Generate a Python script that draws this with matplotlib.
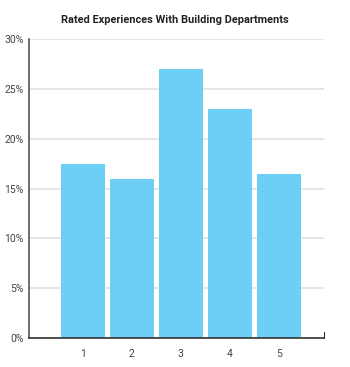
import numpy as np
import matplotlib.pyplot as plt
from matplotlib.ticker import PercentFormatter

ratings = ["1", "2", "3", "4", "5"]
shares = [17.5, 16.0, 27.0, 23.0, 16.5]

plt.rcParams["font.family"] = ["Roboto", "DejaVu Sans"]

fig = plt.figure(figsize=(3.5, 3.67), dpi=100)
ax = fig.add_axes([29 / 350, 1 - 338 / 367, 295 / 350, 299 / 367])

x = np.arange(1, len(ratings) + 1)
ax.bar(x, shares, width=0.9, color="#6dcff6", zorder=2)

ax.set_xlim(-0.1, 5.92)
ax.set_ylim(0, 30)
ax.set_xticks(x)
ax.set_xticklabels(ratings)
ax.set_yticks(np.arange(0, 31, 5))
ax.yaxis.set_major_formatter(PercentFormatter(decimals=0))
ax.grid(axis="y", color="#e0e0e0", linewidth=1.2, zorder=0)

ax.spines["top"].set_visible(False)
ax.spines["left"].set_color("#555555")
ax.spines["left"].set_linewidth(1.2)
ax.spines["bottom"].set_color("#333333")
ax.spines["bottom"].set_linewidth(1.2)
ax.spines["right"].set_bounds(0, 0.6)
ax.spines["right"].set_color("#333333")
ax.tick_params(axis="both", length=0, labelsize=7.5, colors="#444444", pad=4)
ax.tick_params(axis="x", pad=8)

fig.text(0.5, 1 - 20 / 367, "Rated Experiences With Building Departments",
         ha="center", va="center", fontsize=7.9, fontweight="bold", color="#222222")

fig.savefig("out.png", dpi=100)
